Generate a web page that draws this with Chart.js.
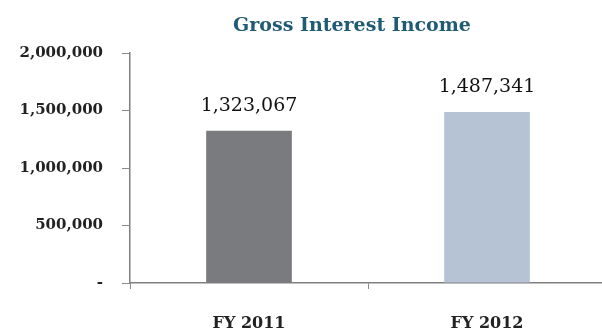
<!DOCTYPE html>
<html>
<head>
<meta charset="utf-8">
<script src="https://cdn.jsdelivr.net/npm/chart.js@4/dist/chart.umd.min.js"></script>
<style>
  html, body { margin: 0; padding: 0; background: #fff; overflow: hidden; }
  #wrap { width: 606px; height: 336px; position: relative; }
</style>
</head>
<body>
<div id="wrap"><canvas id="c"></canvas></div>
<script>
// Gross interest income by fiscal year
const categories = ['FY 2011', 'FY 2012'];
const grossInterestIncome = [1323067, 1487341];
const barColors = ['#7a7b7e', '#b6c3d4'];
const yTickValues = [0, 500000, 1000000, 1500000, 2000000];
const chartTitle = 'Gross Interest Income';

const SERIF = '"DejaVu Serif", "Liberation Serif", serif';
const fmt = v => v === 0 ? '-' : v.toLocaleString('en-US');

// Title centred a little left of the plot centre, as in the report layout
const titlePlugin = {
  id: 'reportTitle',
  afterDraw(chart) {
    const { ctx, chartArea } = chart;
    ctx.save();
    ctx.font = 'bold 19px ' + SERIF;
    ctx.fillStyle = '#1f5b74';
    ctx.textAlign = 'center';
    ctx.textBaseline = 'middle';
    ctx.fillText(chartTitle, (chartArea.left + chartArea.right) / 2 - 16, 26);
    ctx.restore();
  }
};

// Value labels above each bar
const valueLabels = {
  id: 'valueLabels',
  afterDatasetsDraw(chart) {
    const { ctx } = chart;
    const meta = chart.getDatasetMeta(0);
    ctx.save();
    ctx.font = '19px ' + SERIF;
    ctx.fillStyle = '#111';
    ctx.textAlign = 'center';
    ctx.textBaseline = 'alphabetic';
    meta.data.forEach((bar, i) => {
      ctx.fillText(fmt(grossInterestIncome[i]), bar.x, bar.y - 20);
    });
    ctx.restore();
  }
};

new Chart(document.getElementById('c'), {
  type: 'bar',
  data: {
    labels: categories,
    datasets: [{
      data: grossInterestIncome,
      backgroundColor: barColors,
      borderWidth: 0,
      categoryPercentage: 1,
      barPercentage: 0.36
    }]
  },
  options: {
    responsive: true,
    maintainAspectRatio: false,
    animation: false,
    layout: { padding: { top: 53, right: 0, bottom: 0, left: 0 } },
    plugins: {
      legend: { display: false },
      title: { display: false },
      tooltip: { enabled: false }
    },
    scales: {
      x: {
        grid: {
          offset: true,
          drawOnChartArea: false,
          drawTicks: true,
          tickLength: 6,
          color: '#8a8a8a'
        },
        border: { color: '#7f7f7f', width: 1.5 },
        ticks: {
          color: '#222',
          padding: 25,
          font: { family: SERIF, size: 16, weight: 'bold' }
        },
        afterFit(scale) { scale.height = 53; }
      },
      y: {
        min: 0,
        max: 2000000,
        afterBuildTicks(scale) { scale.ticks = yTickValues.map(v => ({ value: v })); },
        grid: {
          drawOnChartArea: false,
          drawTicks: true,
          tickLength: 8,
          color: '#8a8a8a'
        },
        border: { color: '#7f7f7f', width: 1.5 },
        ticks: {
          color: '#222',
          padding: 19,
          font: { family: SERIF, size: 15, weight: 'bold' },
          callback: v => fmt(v)
        },
        afterFit(scale) { scale.width = 130; }
      }
    }
  },
  plugins: [titlePlugin, valueLabels]
});
</script>
</body>
</html>
